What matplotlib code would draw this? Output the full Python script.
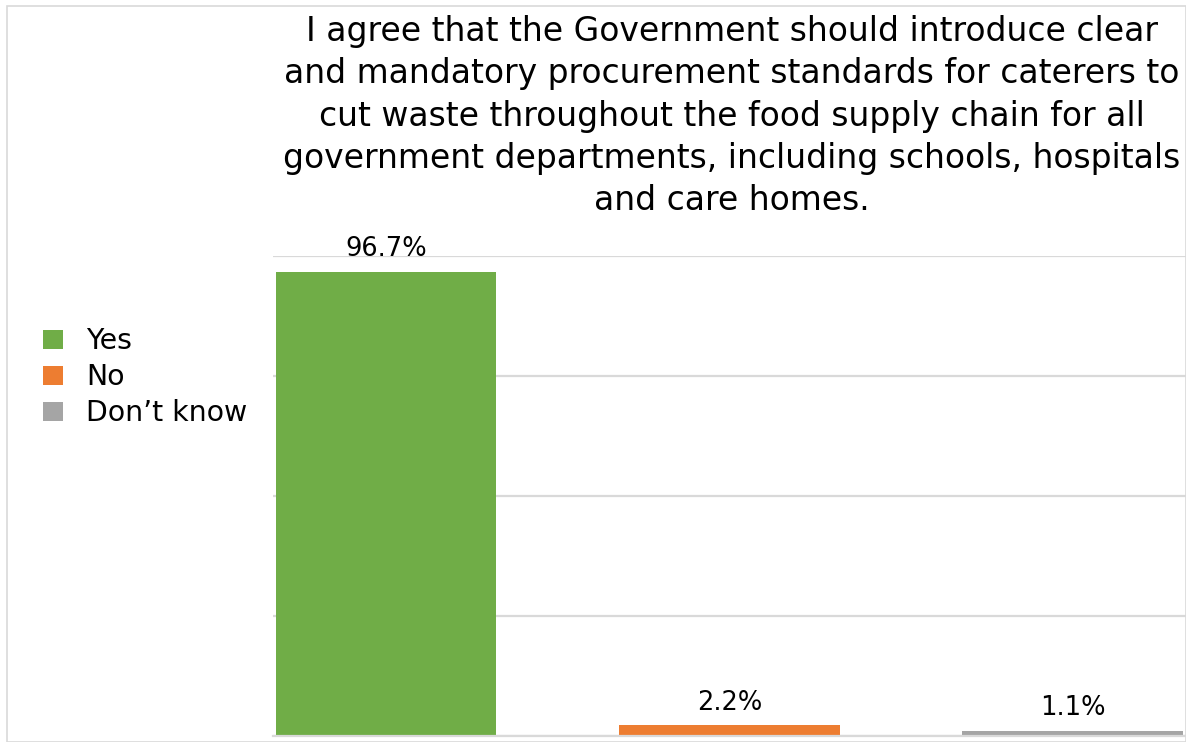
import matplotlib.pyplot as plt
from matplotlib.patches import Patch, Rectangle

categories = ["Yes", "No", "Don\u2019t know"]
percent = [96.7, 2.2, 1.1]
colors = ["#70ad47", "#ed7d31", "#a5a5a5"]
title = ("I agree that the Government should introduce clear\n"
         "and mandatory procurement standards for caterers to\n"
         "cut waste throughout the food supply chain for all\n"
         "government departments, including schools, hospitals\n"
         "and care homes.")

plt.rcParams["font.family"] = "DejaVu Sans"

fig = plt.figure(figsize=(11.86, 7.42), dpi=100)
fig.patches.append(Rectangle((0.006, 0.0), 0.994, 0.992, transform=fig.transFigure,
                             fill=False, edgecolor="#d9d9d9", linewidth=1.2))

ax = fig.add_axes([273 / 1186, 6 / 742, 913 / 1186, 480 / 742])
x = list(range(len(categories)))
bars = ax.bar(x, percent, width=0.643, color=colors, zorder=2)

ax.set_xlim(-0.329, 2.33)
ax.set_ylim(0, 100)
ax.set_yticks([0, 25, 50, 75, 100])
ax.yaxis.grid(True, color="#d9d9d9", linewidth=1.6, zorder=0)
ax.set_axisbelow(True)
ax.tick_params(left=False, bottom=False, labelleft=False, labelbottom=False)
for s in ["top", "right", "left"]:
    ax.spines[s].set_visible(False)
ax.spines["bottom"].set_color("#d9d9d9")
ax.spines["bottom"].set_linewidth(1.6)

for b, v in zip(bars, percent):
    ax.annotate(f"{v}%", (b.get_x() + b.get_width() / 2, v), xytext=(0, 7),
                textcoords="offset points", ha="center", va="bottom",
                fontsize=18.5, zorder=3)

fig.text(0.617, 0.98, title, ha="center", va="top", fontsize=23.8, linespacing=1.36)

handles = [Patch(facecolor=c, edgecolor="none") for c in colors]
fig.legend(handles, categories, loc="upper left", bbox_to_anchor=(0.015, 0.593),
           frameon=False, fontsize=20.4, handlelength=0.7, handleheight=0.7,
           handletextpad=0.8, labelspacing=0.28)

fig.savefig("out.png", dpi=100)
